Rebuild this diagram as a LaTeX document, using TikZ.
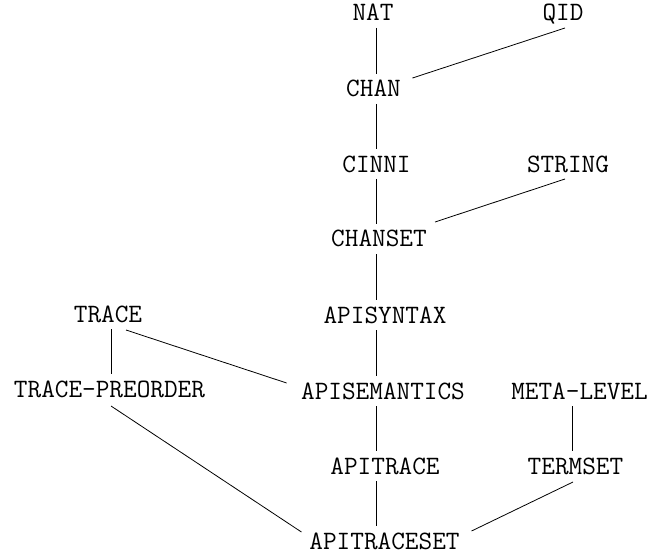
\documentclass[tikz,border=0pt]{standalone}
\usepackage{fontspec}
\begin{document}
\begin{tikzpicture}[x=1pt,y=-1pt,
  lbl/.style={inner sep=0pt, outer sep=7pt, text height=16pt, text depth=0pt,
    font=\fontsize{26.5}{30}\selectfont\ttfamily, anchor=base},
  edge/.style={line width=0.8pt, black}]
\useasboundingbox (0,0) rectangle (651,559);
% column guides for vertical connectors
\coordinate (spine) at (376,0);
\coordinate (lcol) at (111,0);
\coordinate (rcol) at (572,0);
% nodes (positioned by baseline)
\node[lbl] (NAT) at (373,21) {NAT};
\node[lbl] (QID) at (563,21) {QID};
\node[lbl] (CHAN) at (373.5,97) {CHAN};
\node[lbl] (CINNI) at (376.5,172) {CINNI};
\node[lbl] (STRING) at (568,172) {STRING};
\node[lbl] (CHANSET) at (379,247) {CHANSET};
\node[lbl] (TRACE) at (108,322) {TRACE};
\node[lbl] (APISYNTAX) at (385,323) {APISYNTAX};
\node[lbl] (TPRE) at (109.5,397) {TRACE-PREORDER};
\node[lbl] (APISEM) at (383,399) {APISEMANTICS};
\node[lbl] (META) at (579.5,399) {META-LEVEL};
\node[lbl] (APITRACE) at (385,474) {APITRACE};
\node[lbl] (TERMSET) at (575.5,474) {TERMSET};
\node[lbl] (APITS) at (384.5,549) {APITRACESET};
% connectors
\draw[edge] (NAT.south -| spine) -- (CHAN.north -| spine);
\draw[edge] ([xshift=2]QID.south) -- ([shift={(4.7,4)}]CHAN.north east);
\draw[edge] (CHAN.south -| spine) -- (CINNI.north -| spine);
\draw[edge] (CINNI.south -| spine) -- (CHANSET.north -| spine);
\draw[edge] ([xshift=-3]STRING.south) -- ([shift={(1.3,-2)}]CHANSET.north east);
\draw[edge] (CHANSET.south -| spine) -- (APISYNTAX.north -| spine);
\draw[edge] (APISYNTAX.south -| spine) -- (APISEM.north -| spine);
\draw[edge] (TRACE.south -| lcol) -- (TPRE.north -| lcol);
\draw[edge] ([shift={(18,1)}]TRACE.south) -- ([shift={(-7.5,7)}]APISEM.north west);
\draw[edge] (APISEM.south -| spine) -- (APITRACE.north -| spine);
\draw[edge] (APITRACE.south -| spine) -- (APITS.north -| spine);
\draw[edge] ([shift={(1.5,2)}]TPRE.south) -- ([shift={(-1,6)}]APITS.north west);
\draw[edge] (META.south -| rcol) -- (TERMSET.north -| rcol);
\draw[edge] ([shift={(-2.5,1)}]TERMSET.south) -- ([shift={(5,5)}]APITS.north east);
\end{tikzpicture}
\end{document}
